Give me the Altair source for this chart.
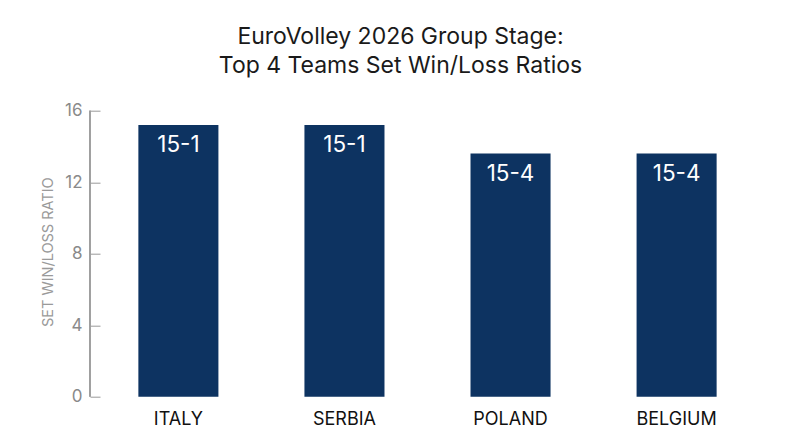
import altair as alt
import pandas as pd

teams = ["ITALY", "SERBIA", "POLAND", "BELGIUM"]
ratios = [15.2, 15.2, 13.6, 13.6]
records = ["15-1", "15-1", "15-4", "15-4"]
y_ticks = [0, 4, 8, 12, 16]

df = pd.DataFrame({"team": teams, "ratio": ratios, "record": records})

FONT = "Inter"
BAR = "#0d3361"
GRAY = "#9a9a9a"

x_enc = alt.X(
    "team:N",
    sort=teams,
    scale=alt.Scale(paddingInner=0.518, paddingOuter=0.231),
    axis=alt.Axis(
        title=None, domain=False, ticks=False, labelAngle=0,
        labelFont=FONT, labelFontSize=18, labelColor="#111111",
        labelPadding=14,
    ),
)
y_scale = alt.Scale(domain=[0, 16], nice=False)

bars = alt.Chart(df).mark_bar(color=BAR).encode(
    x=x_enc,
    y=alt.Y(
        "ratio:Q",
        scale=y_scale,
        axis=alt.Axis(
            title="SET WIN/LOSS RATIO", values=y_ticks, grid=False, domain=False,
            tickSize=10, tickColor=GRAY, tickWidth=1,
            labelFont=FONT, labelFontSize=17, labelColor="#8a8a8a", labelPadding=8,
            titleFont=FONT, titleFontSize=14.5, titleFontWeight="normal", titleColor="#9a9a9a",
            titleAngle=-90, titleX=-52, titleY=141, titleAlign="center", titleBaseline="middle",
        ),
    ),
)

labels = alt.Chart(df).mark_text(
    color="white", font=FONT, fontSize=22.5, baseline="alphabetic", dy=27.5
).encode(
    x=alt.X("team:N", sort=teams),
    y=alt.Y("ratio:Q", scale=y_scale),
    text="record:N",
)

domain_line = alt.Chart(df).mark_rule(color=GRAY, strokeWidth=1).encode(
    x=alt.value(-10),
    y=alt.datum(0, scale=y_scale),
    y2=alt.datum(16),
)

chart = alt.layer(bars, labels, domain_line).properties(
    width=655,
    height=286,
    autosize=alt.AutoSizeParams(type="none"),
    padding={"left": 92, "top": 102.7, "right": 37, "bottom": 50},
    title=alt.TitleParams(
        text=["EuroVolley 2026 Group Stage:", "Top 4 Teams Set Win/Loss Ratios"],
        font=FONT, fontSize=23, fontWeight="normal", color="#1a1a1a",
        anchor="middle", frame="group", dx=-27, baseline="bottom", offset=1,
        lineHeight=29,
    ),
).configure_view(stroke=None)

chart.save("out.html", embed_options={"renderer": "svg", "actions": False})
